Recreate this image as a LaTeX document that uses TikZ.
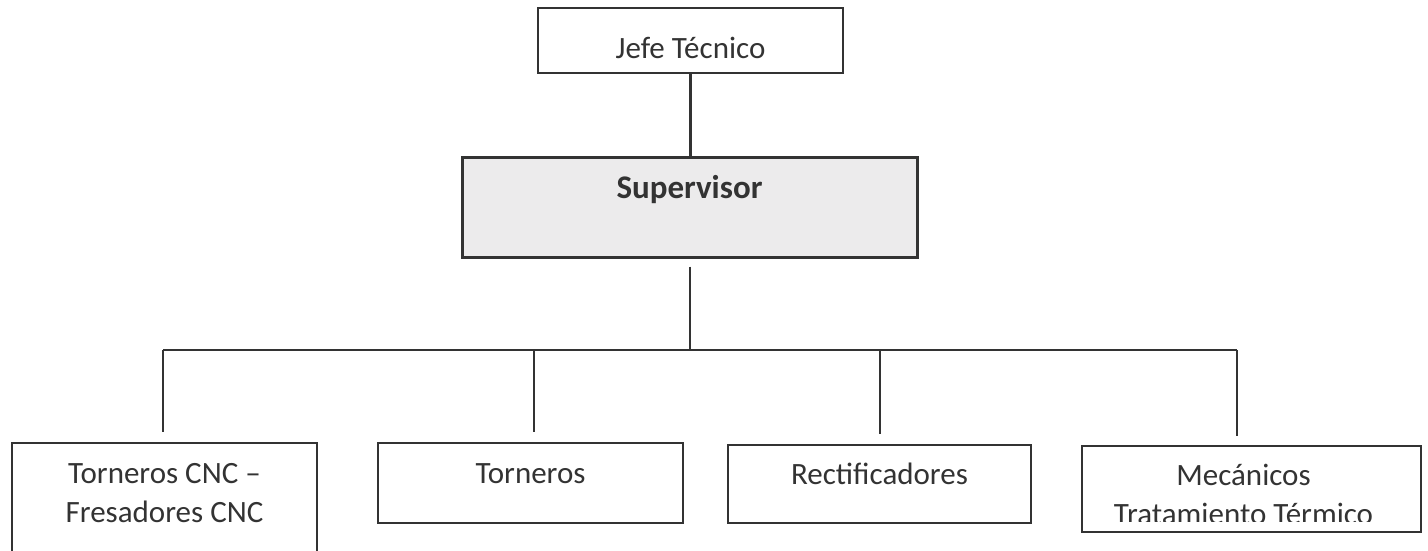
\documentclass[tikz,border=0pt]{standalone}
\usepackage{fontspec}
\setmainfont{Carlito}
\definecolor{ink}{HTML}{333333}
\definecolor{supfill}{HTML}{ECEBEC}
\newcommand\twolines[3][0pt]{\vtop{\halign{\hfil##\hfil\kern#1\cr #2\cr #3\cr}}}
\tikzset{
  orgbox/.style={draw=ink, line width=2.2pt, inner sep=0pt, text=ink,
    font=\fontsize{31}{39.5}\selectfont},
  link/.style={draw=ink, line width=2.2pt},
}
\begin{document}
\begin{tikzpicture}[x=1pt,y=-1pt]
\useasboundingbox (0,0) rectangle (1428,550);
% top levels
\node[orgbox, minimum width=305pt, minimum height=65pt, text height=35pt, text depth=0pt]
  (jefe) at (690.5,40.5) {Jefe Técnico};
\node[orgbox, fill=supfill, line width=3pt, minimum width=455pt, minimum height=100pt,
  text height=22pt, text depth=40pt, font=\fontsize{33}{40}\selectfont\bfseries]
  (sup) at (689.5,207) {Supervisor};
% bottom level
\node[orgbox, minimum width=305pt, minimum height=167pt, text height=20pt, text depth=107pt]
  (tcnc) at (164.5,526.5) {\twolines{Torneros CNC –}{Fresadores CNC}};
\node[orgbox, minimum width=305pt, minimum height=80pt, text height=22pt, text depth=22pt]
  (torn) at (530.5,483) {Torneros};
\node[orgbox, minimum width=303pt, minimum height=78pt, text height=22pt, text depth=22pt]
  (rect) at (879.5,484) {Rectificadores};
\begin{scope}
  \clip (1085,449) rectangle (1418,521);
  \node[orgbox, draw=none, minimum width=337pt, minimum height=84pt, text height=20pt, text depth=28pt]
    (mec) at (1251.5,489) {\twolines[16pt]{Mecánicos}{Tratamiento Térmico}};
\end{scope}
\draw[link] (mec.north west) rectangle (mec.south east);
% connectors
\coordinate (hub) at (690,350);
\coordinate (d1) at (163,350);
\coordinate (d2) at (534,350);
\coordinate (d3) at (880,350);
\coordinate (d4) at (1237,350);
\draw[link] (jefe.south) -- (jefe.south |- sup.north);
\draw[link, shorten <=8pt] (hub |- sup.south) -- (hub);
\draw[link] (d1) -- (d4);
\draw[link, shorten >=10pt] (d1) -- (d1 |- tcnc.north);
\draw[link, shorten >=10pt] (d2) -- (d2 |- torn.north);
\draw[link, shorten >=10pt] (d3) -- (d3 |- rect.north);
\draw[link, shorten >=10pt] (d4) -- (d4 |- mec.north);
\end{tikzpicture}
\end{document}
